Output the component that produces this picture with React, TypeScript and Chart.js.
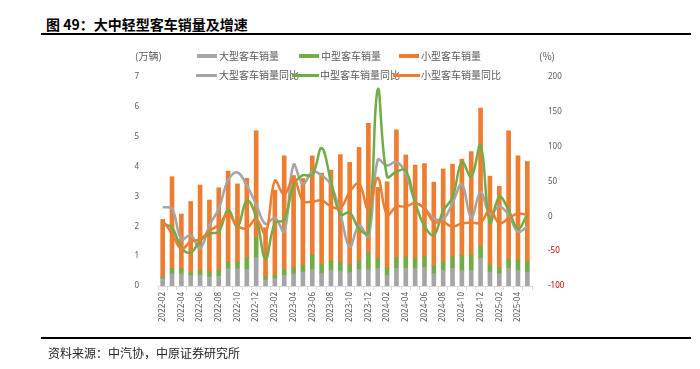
import React, { useEffect, useRef } from 'react';
import { Chart, registerables } from 'chart.js';

Chart.register(...registerables);

const months = [
  '2022-02', '2022-03', '2022-04', '2022-05', '2022-06', '2022-07', '2022-08', '2022-09', '2022-10', '2022-11', '2022-12',
  '2023-01', '2023-02', '2023-03', '2023-04', '2023-05', '2023-06', '2023-07', '2023-08', '2023-09', '2023-10', '2023-11', '2023-12',
  '2024-01', '2024-02', '2024-03', '2024-04', '2024-05', '2024-06', '2024-07', '2024-08', '2024-09', '2024-10', '2024-11', '2024-12',
  '2025-01', '2025-02', '2025-03', '2025-04', '2025-05',
];

// 万辆
const largeSales = [0.25, 0.41, 0.40, 0.35, 0.36, 0.30, 0.33, 0.58, 0.58, 0.55, 0.95, 0.20, 0.25, 0.36, 0.40, 0.47, 0.55, 0.42, 0.53, 0.50, 0.45, 0.55, 0.55, 0.60, 0.35, 0.60, 0.60, 0.60, 0.63, 0.41, 0.52, 0.60, 0.52, 0.52, 0.92, 0.47, 0.41, 0.60, 0.52, 0.47];
const mediumSales = [0.05, 0.17, 0.17, 0.10, 0.17, 0.17, 0.20, 0.22, 0.22, 0.40, 0.65, 0.10, 0.10, 0.19, 0.20, 0.22, 0.48, 0.30, 0.30, 0.30, 0.25, 0.30, 0.55, 0.30, 0.25, 0.35, 0.37, 0.32, 0.35, 0.28, 0.28, 0.38, 0.50, 0.50, 0.40, 0.22, 0.20, 0.30, 0.35, 0.33];
const smallSales = [1.93, 3.08, 1.84, 2.38, 2.85, 2.41, 2.76, 3.05, 2.62, 2.66, 3.60, 1.65, 2.86, 3.81, 3.10, 2.91, 3.33, 3.06, 3.05, 3.60, 3.44, 3.79, 4.35, 2.40, 2.89, 4.28, 3.42, 3.13, 3.12, 2.79, 3.12, 3.10, 3.23, 3.48, 4.64, 2.99, 2.73, 4.30, 3.49, 3.37];

// %
const largeYoY = [13, 11, -33, -27, -46, -13, 11, 52, 63, 44, 17, -11, -2, -22, 74, 46, 64, 59, 45, 4, -44, -13, -29, 81, 73, 78, 62, 22, 12, -3, -4, 19, 46, -2, 35, 3, 14, 2, -22, -15];
const mediumYoY = [-11, -16, -45, -52, -35, -25, -22, 9, -15, 23, -1, -61, -10, -5, 45, 59, 59, 98, 50, 3, 5, -18, -24, 182, 57, 64, 66, 20, -14, -27, 8, 27, 78, 57, 102, -9, 28, 9, -18, 3];
const smallYoY = [-6, -25, -47, -36, -33, -21, -12, 3, -14, -17, -4, -25, 51, 31, 55, 22, 21, 23, 14, 12, 35, 47, 10, 55, 2, 14, 14, 19, 11, -8, -8, -15, -10, -9, -9, 9, -10, -3, 4, 2];

const leftTicks = { min: 0, max: 7, step: 1 };
const rightTicks = { min: -100, max: 200, step: 50 };

const GRAY = '#A5A5A5';
const GREEN = '#70AD47';
const ORANGE = '#ED7D31';
const TEXT = '#595959';

export default function App() {
  const canvasRef = useRef<HTMLCanvasElement | null>(null);

  useEffect(() => {
    const canvas = canvasRef.current;
    if (!canvas) return;
    const font = { family: '"Noto Sans", "Liberation Sans", sans-serif', size: 8 };
    const chart = new Chart(canvas, {
      type: 'bar',
      data: {
        labels: months,
        datasets: [
          { type: 'bar', label: '大型客车销量', data: largeSales, backgroundColor: GRAY, yAxisID: 'y', stack: 's', barThickness: 4, order: 10 },
          { type: 'bar', label: '中型客车销量', data: mediumSales, backgroundColor: GREEN, yAxisID: 'y', stack: 's', barThickness: 4, order: 10 },
          { type: 'bar', label: '小型客车销量', data: smallSales, backgroundColor: ORANGE, yAxisID: 'y', stack: 's', barThickness: 4, order: 10 },
          { type: 'line', label: '大型客车销量同比', data: largeYoY, borderColor: GRAY, backgroundColor: GRAY, borderWidth: 2.5, pointRadius: 0, tension: 0.4, yAxisID: 'y1', order: 3 },
          { type: 'line', label: '中型客车销量同比', data: mediumYoY, borderColor: GREEN, backgroundColor: GREEN, borderWidth: 2.5, pointRadius: 0, tension: 0.4, yAxisID: 'y1', order: 2 },
          { type: 'line', label: '小型客车销量同比', data: smallYoY, borderColor: ORANGE, backgroundColor: ORANGE, borderWidth: 2.5, pointRadius: 0, tension: 0.4, yAxisID: 'y1', order: 1 },
        ] as any,
      },
      options: {
        responsive: false,
        animation: false,
        layout: { padding: { left: 128, right: 128, top: 77, bottom: 35 } },
        plugins: { legend: { display: false }, tooltip: { enabled: false }, title: { display: false } },
        scales: {
          x: {
            stacked: true,
            grid: { display: true, drawOnChartArea: false, tickLength: 4, color: '#D9D9D9' },
            border: { display: true, color: '#D9D9D9' },
            ticks: {
              autoSkip: false,
              minRotation: 90,
              maxRotation: 90,
              padding: 2,
              color: TEXT,
              font,
              callback: (_v: any, i: number) => (i % 2 === 0 ? months[i] : ''),
            },
            afterFit: (s: any) => { s.height = 48; },
          },
          y: {
            stacked: true,
            position: 'left',
            min: leftTicks.min,
            max: leftTicks.max,
            grid: { display: false },
            border: { display: false },
            ticks: { stepSize: leftTicks.step, padding: 11, color: TEXT, font },
            afterFit: (s: any) => { s.width = 30; },
          },
          y1: {
            stacked: false,
            position: 'right',
            min: rightTicks.min,
            max: rightTicks.max,
            grid: { display: false },
            border: { display: false },
            ticks: {
              stepSize: rightTicks.step,
              padding: 8,
              font,
              color: (ctx: any) => (ctx.tick && ctx.tick.value < 0 ? '#C00000' : TEXT),
            },
            afterFit: (s: any) => { s.width = 40; },
          },
        },
      } as any,
    });
    return () => chart.destroy();
  }, []);

  const cjk = '"Noto Sans CJK SC", "Noto Sans", sans-serif';
  const legendText: React.CSSProperties = { position: 'absolute', fontFamily: cjk, fontSize: 10, color: TEXT, lineHeight: '12px', whiteSpace: 'nowrap' };
  const rect = (left: number, top: number, w: number, h: number, c: string): React.CSSProperties => ({ position: 'absolute', left, top, width: w, height: h, background: c });

  return (
    <div style={{ position: 'fixed', left: 0, top: 0, width: 700, height: 369, background: '#fff', overflow: 'hidden' }}>
      <div style={{ position: 'absolute', left: 46, top: 15, fontFamily: cjk, fontWeight: 700, fontSize: 14, lineHeight: '18px', color: '#000', whiteSpace: 'nowrap' }}>图 49：大中轻型客车销量及增速</div>
      <div style={rect(41, 33, 650, 2, '#000')} />
      <canvas ref={canvasRef} width={700} height={369} style={{ position: 'absolute', left: 0, top: 0, width: 700, height: 369 }} />
      <div style={{ ...legendText, left: 135, top: 50 }}>(万辆)</div>
      <div style={{ ...legendText, left: 539, top: 50 }}>(%)</div>

      <div style={rect(197, 54, 20, 4, GRAY)} />
      <div style={{ ...legendText, left: 219, top: 50 }}>大型客车销量</div>
      <div style={rect(299, 54, 20, 4, GREEN)} />
      <div style={{ ...legendText, left: 321, top: 50 }}>中型客车销量</div>
      <div style={rect(399, 54, 20, 4, ORANGE)} />
      <div style={{ ...legendText, left: 421, top: 50 }}>小型客车销量</div>

      <div style={rect(196, 74, 21, 2.5, GRAY)} />
      <div style={{ ...legendText, left: 219, top: 69 }}>大型客车销量同比</div>
      <div style={rect(292, 74, 27, 2.5, GREEN)} />
      <div style={{ ...legendText, left: 320, top: 69 }}>中型客车销量同比</div>
      <div style={rect(393, 74, 27, 2.5, ORANGE)} />
      <div style={{ ...legendText, left: 421, top: 69 }}>小型客车销量同比</div>

      <div style={rect(41, 337, 650, 2, '#000')} />
      <div style={{ position: 'absolute', left: 48, top: 345, fontFamily: cjk, fontSize: 12, lineHeight: '16px', color: '#222', whiteSpace: 'nowrap' }}>资料来源：中汽协，中原证券研究所</div>
    </div>
  );
}
